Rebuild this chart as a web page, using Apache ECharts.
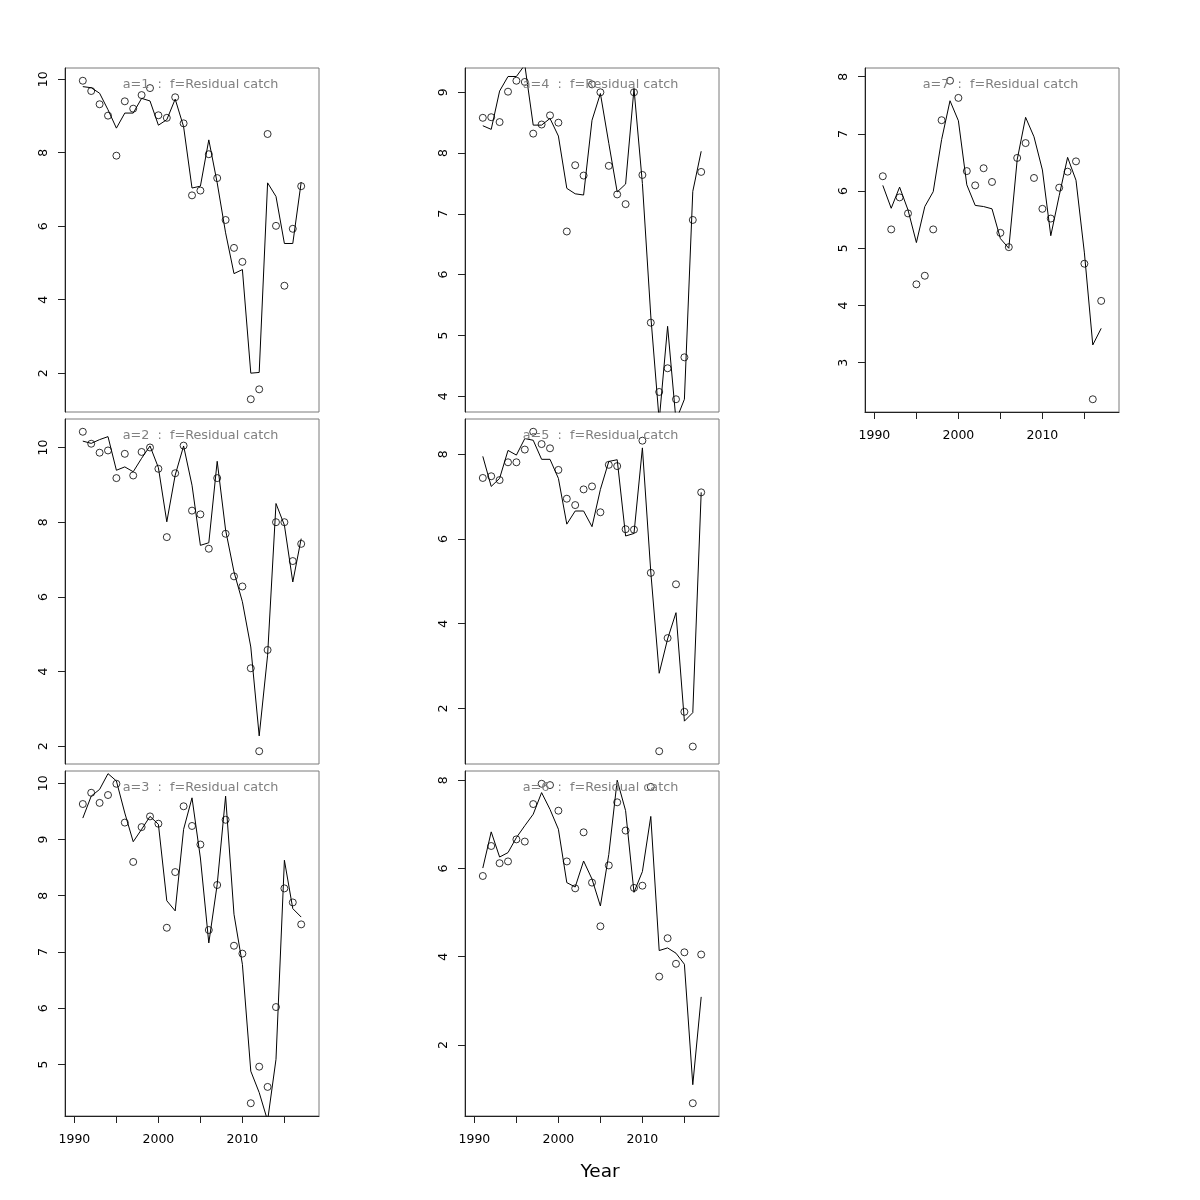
<!DOCTYPE html>
<html>
<head>
<meta charset="utf-8">
<script src="https://cdn.jsdelivr.net/npm/echarts@6/dist/echarts.min.js"></script>
<style>html,body{margin:0;padding:0;background:#fff}#c{width:1200px;height:1200px}</style>
</head>
<body>
<div id="c"></div>
<script>
const years = [1991,1992,1993,1994,1995,1996,1997,1998,1999,2000,2001,2002,2003,2004,2005,2006,2007,2008,2009,2010,2011,2012,2013,2014,2015,2016,2017];

const panelTitles = ["a=1  :  f=Residual catch","a=2  :  f=Residual catch","a=3  :  f=Residual catch","a=4  :  f=Residual catch","a=5  :  f=Residual catch","a=6  :  f=Residual catch","a=7  :  f=Residual catch"];

const obs1 = [9.96,9.68,9.32,9.01,7.92,9.40,9.20,9.57,9.76,9.02,8.95,9.51,8.80,6.84,6.97,7.96,7.31,6.17,5.41,5.03,1.29,1.56,8.51,6.01,4.38,5.93,7.09];
const fit1 = [9.80,9.77,9.62,9.17,8.67,9.08,9.08,9.48,9.41,8.75,8.90,9.46,8.71,7.04,7.09,8.35,7.18,5.82,4.71,4.82,2.00,2.02,7.18,6.81,5.53,5.53,7.20];

const obs2 = [10.42,10.10,9.86,9.92,9.18,9.83,9.25,9.88,10.00,9.43,7.60,9.31,10.05,8.31,8.21,7.29,9.18,7.69,6.55,6.28,4.09,1.87,4.58,8.00,8.00,6.96,7.42];
const fit2 = [10.17,10.11,10.21,10.29,9.39,9.48,9.35,9.71,10.04,9.46,8.01,9.26,10.04,8.99,7.38,7.45,9.63,7.79,6.67,5.87,4.66,2.28,4.44,8.50,7.92,6.40,7.56];

const obs3 = [9.63,9.83,9.65,9.79,9.99,9.30,8.60,9.22,9.41,9.28,7.43,8.42,9.59,9.24,8.91,7.39,8.19,9.35,7.11,6.97,4.31,4.96,4.60,6.02,8.13,7.88,7.49];
const fit3 = [9.38,9.77,9.89,10.17,10.04,9.47,8.96,9.18,9.41,9.27,7.91,7.73,9.18,9.74,8.67,7.16,8.20,9.77,7.67,6.78,4.88,4.50,4.00,5.09,8.63,7.77,7.62];

const obs4 = [8.58,8.59,8.51,9.01,9.19,9.17,8.32,8.47,8.62,8.50,6.71,7.80,7.63,9.13,9.00,7.79,7.32,7.16,9.00,7.64,5.21,4.07,4.46,3.95,4.64,6.90,7.69];
const fit4 = [8.45,8.39,9.02,9.26,9.26,9.45,8.46,8.46,8.57,8.28,7.42,7.33,7.31,8.54,8.98,8.16,7.36,7.49,9.06,7.50,5.32,3.60,5.15,3.60,3.95,7.37,8.03];

const obs5 = [7.44,7.48,7.39,7.81,7.81,8.11,8.53,8.24,8.14,7.63,6.95,6.80,7.17,7.24,6.63,7.75,7.72,6.23,6.22,8.32,5.20,0.99,3.66,4.93,1.92,1.10,7.10];
const fit5 = [7.95,7.24,7.43,8.09,7.98,8.37,8.33,7.88,7.88,7.43,6.35,6.66,6.66,6.29,7.17,7.83,7.87,6.07,6.13,8.15,5.22,2.83,3.64,4.26,1.70,1.90,7.10];

const obs6 = [5.83,6.51,6.12,6.16,6.66,6.61,7.46,7.92,7.89,7.31,6.16,5.55,6.82,5.68,4.69,6.07,7.50,6.86,5.56,5.61,7.85,3.55,4.42,3.84,4.10,0.68,4.05];
const fit6 = [6.01,6.83,6.26,6.36,6.70,6.97,7.23,7.72,7.34,6.89,5.68,5.58,6.17,5.76,5.15,6.32,8.00,7.31,5.46,5.93,7.18,4.14,4.20,4.08,3.83,1.10,3.09];

const obs7 = [6.26,5.33,5.89,5.61,4.37,4.52,5.33,7.24,7.93,7.63,6.35,6.10,6.40,6.16,5.27,5.02,6.58,6.84,6.23,5.69,5.52,6.06,6.34,6.52,4.73,2.36,4.08];
const fit7 = [6.10,5.70,6.07,5.67,5.10,5.73,5.99,6.90,7.58,7.23,6.11,5.75,5.73,5.69,5.17,5.00,6.55,7.29,6.95,6.37,5.22,5.92,6.59,6.19,4.92,3.31,3.60];

const xTicks = [1990,1995,2000,2005,2010,2015];
const xTickLabels = [1990,2000,2010];
const yTicks1 = [2,4,6,8,10];
const yTicks2 = [2,4,6,8,10];
const yTicks3 = [5,6,7,8,9,10];
const yTicks4 = [4,5,6,7,8,9];
const yTicks5 = [2,4,6,8];
const yTicks6 = [2,4,6,8];
const yTicks7 = [3,4,5,6,7,8];
const xLabel = "Year";

const obsAll = [obs1,obs2,obs3,obs4,obs5,obs6,obs7];
const fitAll = [fit1,fit2,fit3,fit4,fit5,fit6,fit7];
const yTicksAll = [yTicks1,yTicks2,yTicks3,yTicks4,yTicks5,yTicks6,yTicks7];

// layout: panel index -> column,row
const colLeft = [65,465,865];
const rowTop = [68,419,771];
const rowH = [344,345,345];
const panelPos = [[0,0],[0,1],[0,2],[1,0],[1,1],[1,2],[2,0]];
const showX = [false,false,true,false,false,true,true];

const FONT = 'DejaVu Sans';
const grids=[], xAxes=[], yAxes=[], series=[], graphics=[];

// R-style x range from 1990..2018 with 4% extension
const xlo = 1990 - 0.04*28, xhi = 2018 + 0.04*28;
const plain = v => String(v);

for (let i=0;i<7;i++){
  const [c,r] = panelPos[i];
  grids.push({left:colLeft[c], top:rowTop[r], width:254, height:rowH[r], show:true, borderColor:'#7a7a7a', borderWidth:1, backgroundColor:'transparent', containLabel:false});
  const o = obsAll[i];
  const mn = Math.min(...o), mx = Math.max(...o), rg = mx-mn;
  xAxes.push({
    type:'value', gridIndex:i, min:xlo, max:xhi, show:showX[i],
    axisLine:{show:true, onZero:false, lineStyle:{color:'#222', width:1}},
    axisTick:{show:true, length:7, customValues:xTicks, lineStyle:{color:'#222'}},
    axisLabel:{show:true, customValues:xTickLabels, formatter:plain, margin:17, color:'#000', fontSize:12.5, fontFamily:FONT},
    splitLine:{show:false}
  });
  yAxes.push({
    type:'value', gridIndex:i, min:mn-0.04*rg, max:mx+0.04*rg,
    axisLine:{show:true, onZero:false, lineStyle:{color:'#222', width:1}},
    axisTick:{show:true, length:7, customValues:yTicksAll[i], lineStyle:{color:'#222'}},
    axisLabel:{show:true, customValues:yTicksAll[i], formatter:plain, rotate:90, margin:15, color:'#000', fontSize:12.5, fontFamily:FONT},
    splitLine:{show:false}
  });
  series.push({
    type:'line', xAxisIndex:i, yAxisIndex:i, clip:true, symbol:'none', showSymbol:false,
    lineStyle:{color:'#000', width:1}, silent:true,
    data: years.map((y,k)=>[y, fitAll[i][k]])
  });
  series.push({
    type:'scatter', xAxisIndex:i, yAxisIndex:i, symbol:'circle', symbolSize:7, silent:true,
    itemStyle:{color:'rgba(0,0,0,0)', borderColor:'#000', borderWidth:1},
    data: years.map((y,k)=>[y, o[k]])
  });
  graphics.push({type:'text', x:colLeft[c]+135.5, y:rowTop[r]+16.5, z:10,
    style:{text:panelTitles[i], textAlign:'center', textVerticalAlign:'middle', fill:'#808080', font:'12.8px "DejaVu Sans"'}});
}
graphics.push({type:'text', x:600, y:1172, style:{text:xLabel, textAlign:'center', textVerticalAlign:'middle', fill:'#000', font:'18.5px "DejaVu Sans"'}});

const chart = echarts.init(document.getElementById('c'), null, {renderer:'canvas'});
chart.setOption({
  animation:false, backgroundColor:'#fff',
  grid:grids, xAxis:xAxes, yAxis:yAxes, series:series, graphic:graphics
});
</script>
</body>
</html>
